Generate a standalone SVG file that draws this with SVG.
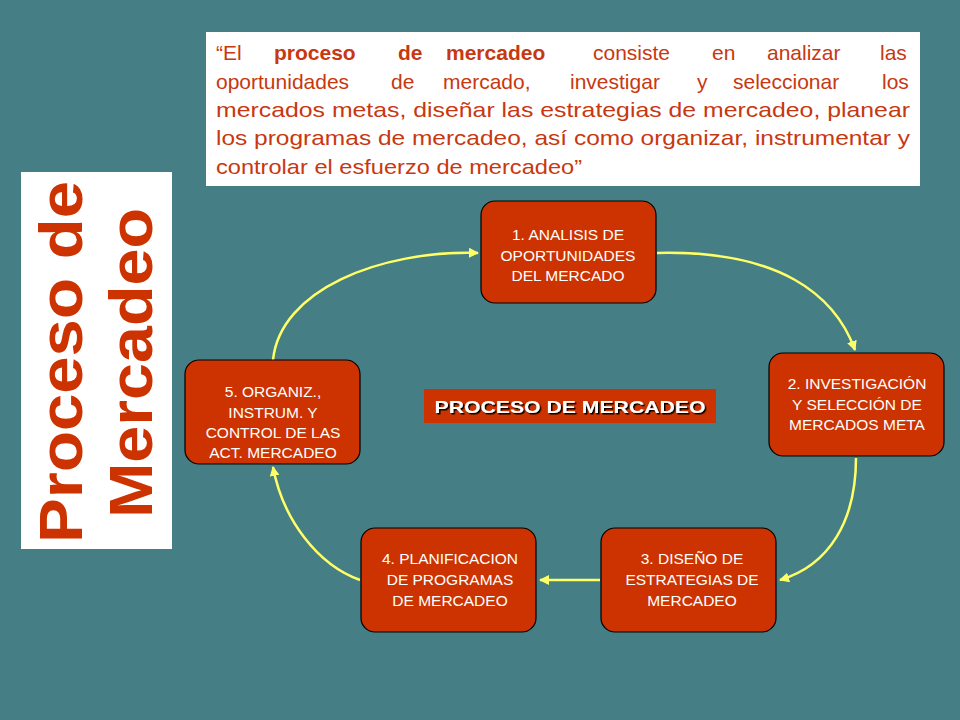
<svg xmlns="http://www.w3.org/2000/svg" width="960" height="720" viewBox="0 0 960 720">
<style>
.n{fill:#CC3300;stroke:#000;stroke-width:1.2}
.nt{font-family:"Liberation Sans",Arial,sans-serif;font-size:15.5px;fill:#fff;text-anchor:middle}
.c{fill:none;stroke:#FFFF66;stroke-width:2.5;marker-end:url(#a)}
.q{font-family:"Liberation Sans",Arial,sans-serif;font-size:21px;fill:#C83810}
</style>
<defs><marker id="a" viewBox="0 0 10 10" refX="9" refY="5" markerWidth="4" markerHeight="4" orient="auto"><path d="M0,0L10,5L0,10z" fill="#FFFF66"/></marker>
<filter id="s"><feDropShadow dx="1.5" dy="1.5" stdDeviation="0" flood-color="#000"/></filter></defs>
<rect width="960" height="720" fill="#457F85"/>
<g id="title">
<rect x="21" y="172" width="151" height="377" fill="#fff"/>
<text transform="translate(82,543) rotate(-90)" font-family="Liberation Sans,Arial,sans-serif" font-weight="bold" font-size="62" fill="#CC3300" textLength="362" lengthAdjust="spacingAndGlyphs">Proceso de</text>
<text transform="translate(152,518) rotate(-90)" font-family="Liberation Sans,Arial,sans-serif" font-weight="bold" font-size="62" fill="#CC3300" textLength="310" lengthAdjust="spacingAndGlyphs">Mercadeo</text>
</g>
<g id="quote">
<rect x="206" y="32" width="714" height="154" fill="#fff"/>
<text class="q" y="60"><tspan x="216">“El</tspan> <tspan x="274" font-weight="bold">proceso</tspan> <tspan x="398" font-weight="bold">de</tspan> <tspan x="446" font-weight="bold">mercadeo</tspan> <tspan x="593">consiste</tspan> <tspan x="712">en</tspan> <tspan x="767">analizar</tspan> <tspan x="880">las</tspan></text>
<text class="q" y="89"><tspan x="216">oportunidades</tspan> <tspan x="391">de</tspan> <tspan x="443">mercado,</tspan> <tspan x="570">investigar</tspan> <tspan x="697">y</tspan> <tspan x="733">seleccionar</tspan> <tspan x="882">los</tspan></text>
<text class="q" x="216" y="117" textLength="694" lengthAdjust="spacingAndGlyphs">mercados metas, diseñar las estrategias de mercadeo, planear</text>
<text class="q" x="216" y="145" textLength="694" lengthAdjust="spacingAndGlyphs">los programas de mercadeo, así como organizar, instrumentar y</text>
<text class="q" x="216" y="174" textLength="366" lengthAdjust="spacingAndGlyphs">controlar el esfuerzo de mercadeo”</text>
</g>
<g id="connectors">
<path class="c" d="M657,253 C780,250 835,295 855,350"/>
<path class="c" d="M856,458 C856,520 830,565 780,580"/>
<path class="c" d="M600,580 L540,580"/>
<path class="c" d="M360,580 C318,565 283,520 273,467"/>
<path class="c" d="M273,360 C280,290 380,250 478,253"/>
</g>
<g id="n1"><rect class="n" x="481" y="201" width="175" height="102" rx="14"/>
<text class="nt" x="568" y="240">1. ANALISIS DE</text><text class="nt" x="568" y="261">OPORTUNIDADES</text><text class="nt" x="568" y="281">DEL MERCADO</text></g>
<g id="n2"><rect class="n" x="769" y="353" width="175" height="103" rx="14"/>
<text class="nt" x="857" y="389">2. INVESTIGACIÓN</text><text class="nt" x="857" y="410">Y SELECCIÓN  DE</text><text class="nt" x="857" y="430">MERCADOS  META</text></g>
<g id="n3"><rect class="n" x="601" y="528" width="175" height="104" rx="14"/>
<text class="nt" x="692" y="564">3. DISEÑO DE</text><text class="nt" x="692" y="585">ESTRATEGIAS DE</text><text class="nt" x="692" y="606">MERCADEO</text></g>
<g id="n4"><rect class="n" x="361" y="528" width="175" height="104" rx="14"/>
<text class="nt" x="450" y="564">4. PLANIFICACION</text><text class="nt" x="450" y="585">DE PROGRAMAS</text><text class="nt" x="450" y="606">DE MERCADEO</text></g>
<g id="n5"><rect class="n" x="185" y="360" width="175" height="104" rx="14"/>
<text class="nt" x="273" y="397">5. ORGANIZ.,</text><text class="nt" x="273" y="418">INSTRUM. Y</text><text class="nt" x="273" y="438">CONTROL DE LAS</text><text class="nt" x="273" y="458">ACT. MERCADEO</text></g>
<g id="center"><rect x="424" y="389" width="292" height="34" fill="#CC3300"/>
<text x="570" y="413" text-anchor="middle" font-family="Liberation Sans,Arial,sans-serif" font-weight="bold" font-size="17" fill="#fff" filter="url(#s)" textLength="271" lengthAdjust="spacingAndGlyphs">PROCESO DE MERCADEO</text></g>
</svg>
